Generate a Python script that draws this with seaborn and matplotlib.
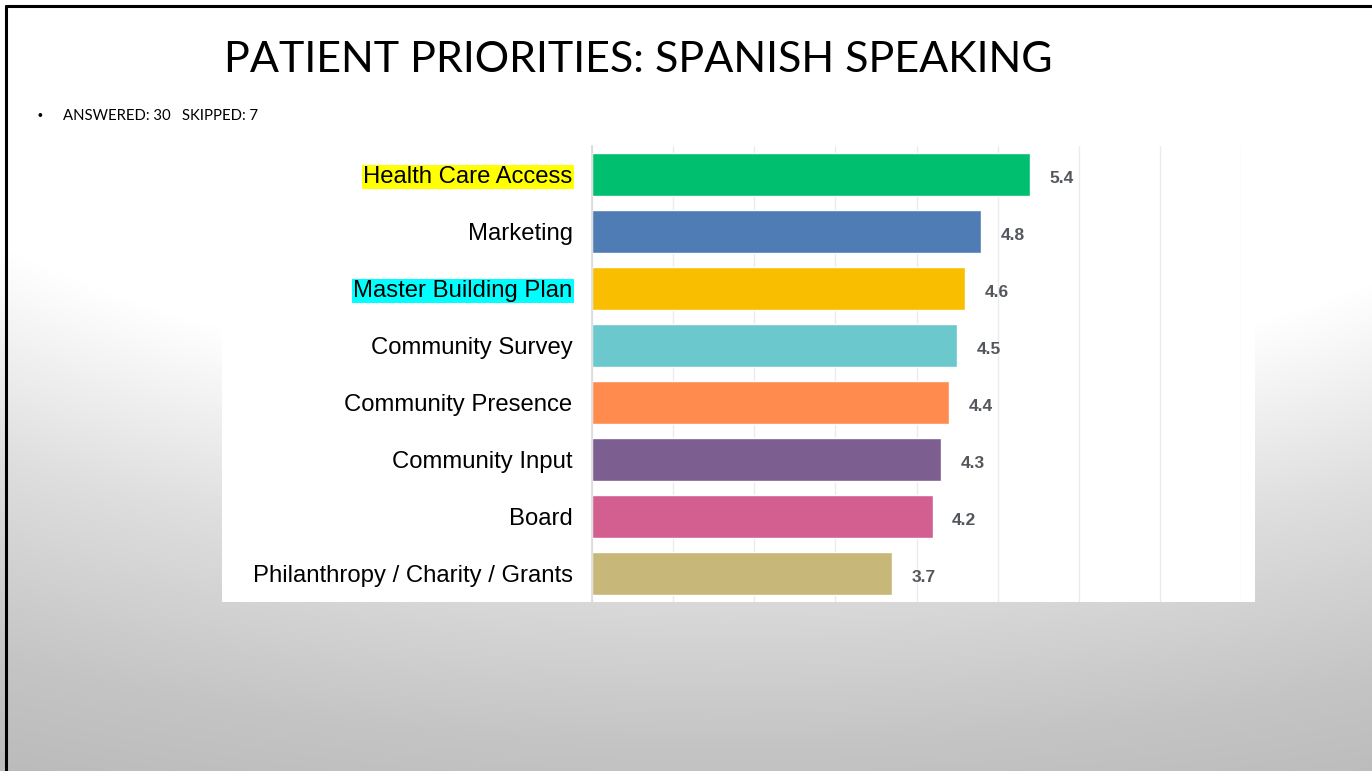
import numpy as np
import matplotlib
matplotlib.use("Agg")
import matplotlib.pyplot as plt
import seaborn as sns
from matplotlib.patches import Rectangle
from matplotlib.lines import Line2D

categories = [
    "Health Care Access",
    "Marketing",
    "Master Building Plan",
    "Community Survey",
    "Community Presence",
    "Community Input",
    "Board",
    "Philanthropy / Charity / Grants",
]
scores = [5.4, 4.8, 4.6, 4.5, 4.4, 4.3, 4.2, 3.7]
bar_colors = ["#00BF6F", "#507CB6", "#F9BE00", "#6BC8CD",
              "#FF8B4F", "#7D5E90", "#D25F90", "#C7B879"]
highlights = {"Health Care Access": "#FFFF00", "Master Building Plan": "#00FFFF"}
title_text = "PATIENT PRIORITIES: SPANISH SPEAKING"
note_text = "ANSWERED: 30   SKIPPED: 7"

W, H = 1372, 771
sns.set_theme(style="white")
plt.rcParams["font.family"] = ["Liberation Sans", "DejaVu Sans"]

fig = plt.figure(figsize=(W / 100, H / 100), dpi=100)

# slide background: white at the top fading to grey towards the bottom
bg = fig.add_axes([0, 0, 1, 1], zorder=0)
yy, xx = np.mgrid[0:H, 0:W]
d = np.sqrt(((xx - 730) / 1300.0) ** 2 + ((yy + 200) / 700.0) ** 2)
v = np.interp(d, [0.85, 1.1, 1.35, 1.55], [1.0, 0.87, 0.77, 0.72])
bg.imshow(np.dstack([v, v, v]), extent=[0, W, H, 0], aspect="auto")
bg.set_xlim(0, W)
bg.set_ylim(H, 0)
bg.axis("off")

# slide frame on top and left
fig.add_artist(Line2D([6 / W, 1], [1 - 6 / H, 1 - 6 / H], color="black", lw=2.2,
                      transform=fig.transFigure))
fig.add_artist(Line2D([6 / W, 6 / W], [0, 1 - 6 / H], color="black", lw=2.2,
                      transform=fig.transFigure))

# white chart panel
fig.add_artist(Rectangle((222 / W, 1 - 602 / H), (1255 - 222) / W, (602 - 135) / H,
                         facecolor="white", edgecolor="none",
                         transform=fig.transFigure, zorder=1))

# title and note
title_font = ["Lato", "DejaVu Sans"]
fig.text(638 / W, 1 - 60 / H, title_text, ha="center", va="center",
         fontsize=31, color="black", family=title_font, zorder=3)
fig.text(37 / W, 1 - 116 / H, "•", ha="left", va="center", fontsize=10,
         color="black", zorder=3)
fig.text(63 / W, 1 - 116 / H, note_text, ha="left", va="center", fontsize=10.7,
         color="black", family=title_font, zorder=3)

# bar chart
ax = fig.add_axes([592 / W, 1 - 602 / H, (1241 - 592) / W, (602 - 146) / H], zorder=2)
ax.patch.set_alpha(0)
sns.barplot(x=scores, y=categories, hue=categories, palette=bar_colors,
            legend=False, width=0.74, saturation=1, ax=ax)
ax.set_xlim(0, 8)
ax.set_xticks(range(0, 9))
ax.set_xticklabels([])
ax.xaxis.grid(True, color="#EBEBEB", lw=1)
ax.set_axisbelow(True)
for side in ["top", "right", "bottom"]:
    ax.spines[side].set_visible(False)
ax.spines["left"].set_color("#D9D9D9")
ax.spines["left"].set_linewidth(1.2)
ax.tick_params(axis="both", length=0)
ax.tick_params(axis="y", pad=14, labelsize=17.2, labelcolor="black")
ax.set_xlabel("")
ax.set_ylabel("")

for lbl in ax.get_yticklabels():
    t = lbl.get_text()
    if t in highlights:
        lbl.set_bbox(dict(facecolor=highlights[t], edgecolor="none", pad=1.0))

for cont in ax.containers:
    for txt in ax.bar_label(cont, fmt="%.1f", padding=14, fontsize=12.5,
                            fontweight="bold", color="#53575C"):
        ox, oy = txt.xyann
        txt.xyann = (ox, oy - 3)

fig.savefig("out.png", dpi=100)
